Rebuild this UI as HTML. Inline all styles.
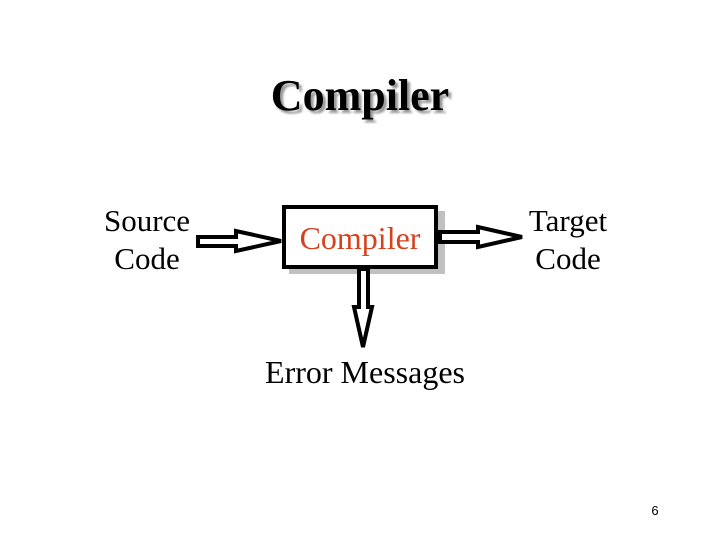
<!DOCTYPE html>
<html><head><style>
body{margin:0;width:720px;height:540px;background:#fff;overflow:hidden;position:relative;font-family:"Liberation Serif",serif}
.t{position:absolute;color:#000;white-space:nowrap}
</style></head><body>
<div class="t" style="left:0;width:720px;top:70px;text-align:center;font-size:44px;font-weight:bold;text-shadow:3px 3px 2px #9a9a9a;">Compiler</div>
<div class="t" style="left:87px;width:120px;top:202px;text-align:center;font-size:31px;line-height:38px;">Source<br>Code</div>
<div class="t" style="left:508px;width:120px;top:202px;text-align:center;font-size:31px;line-height:38px;">Target<br>Code</div>
<svg width="720" height="540" style="position:absolute;left:0;top:0">
<rect x="289" y="211" width="156" height="63" fill="#c0c0c0"/>
<rect x="284" y="207" width="152" height="60" fill="#fff" stroke="#000" stroke-width="4"/>
<polygon points="198,237 236,237 236,231 281,241 236,251 236,246 198,246" fill="#fff" stroke="#000" stroke-width="4" stroke-linejoin="miter"/>
<polygon points="440,232 478,232 478,227 522,237 478,247 478,242 440,242" fill="#fff" stroke="#000" stroke-width="4"/>
<polygon points="359,269 368,269 368,307 372,307 363,347 354,307 359,307" fill="#fff" stroke="#000" stroke-width="4"/>
</svg>
<div class="t" style="left:260px;width:200px;top:220px;text-align:center;font-size:32px;color:#d4421e;">Compiler</div>
<div class="t" style="left:215px;width:300px;top:354px;text-align:center;font-size:32px;">Error Messages</div>
<div class="t" style="left:640px;width:30px;top:503px;text-align:center;font-size:13px;font-family:'Liberation Sans',sans-serif;">6</div>
</body></html>
